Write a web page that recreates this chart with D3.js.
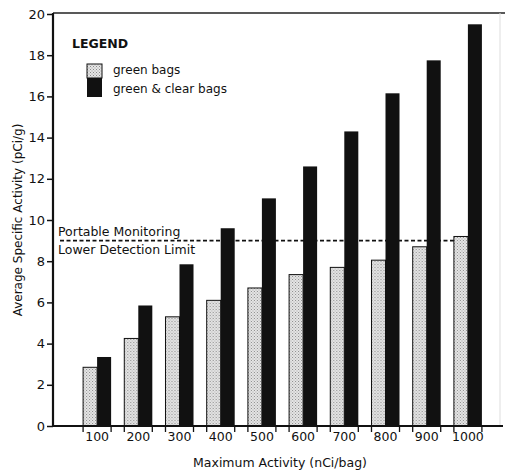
<!DOCTYPE html>
<html>
<head>
<meta charset="utf-8">
<script src="https://cdn.jsdelivr.net/npm/d3@7"></script>
<style>
  body { margin: 0; background: #fff; }
  svg { display: block; font-family: "DejaVu Sans", Verdana, sans-serif; }
</style>
</head>
<body>
<div id="chart"></div>
<script>
// Data.
var categories = ['100', '200', '300', '400', '500', '600', '700', '800', '900', '1000'];
var greenBags = [2.85, 4.25, 5.3, 6.1, 6.7, 7.35, 7.7, 8.05, 8.7, 9.2];
var greenClearBags = [3.35, 5.85, 7.85, 9.6, 11.05, 12.6, 14.3, 16.15, 17.75, 19.5];
var yTicks = [0, 2, 4, 6, 8, 10, 12, 14, 16, 18, 20];
var detectionLimit = 9;

var width = 505, height = 471;
var x0 = 53, x1 = 503, yTop = 13, yBottom = 426;

var svg = d3.select('#chart').append('svg')
    .attr('width', width)
    .attr('height', height);

// dotted fill for the light bars
var pat = svg.append('defs').append('pattern')
    .attr('id', 'stipple')
    .attr('patternUnits', 'userSpaceOnUse')
    .attr('width', 3).attr('height', 3);
pat.append('rect').attr('width', 3).attr('height', 3).attr('fill', '#e6e6e6');
pat.append('rect').attr('x', 0).attr('y', 0).attr('width', 1).attr('height', 1).attr('fill', '#8a8a8a');
pat.append('rect').attr('x', 1.5).attr('y', 1.5).attr('width', 1).attr('height', 1).attr('fill', '#9a9a9a');

var xScale = d3.scaleBand()
    .domain(categories)
    .range([76.5, 488.5])
    .paddingInner(0.32)
    .paddingOuter(0.16);

var xSub = d3.scaleBand()
    .domain(['green', 'clear'])
    .range([0, xScale.bandwidth()]);

var yScale = d3.scaleLinear()
    .domain([0, 20])
    .range([yBottom, yTop + 1]);

// dashed detection limit, behind the bars
svg.append('line')
    .attr('x1', 60).attr('x2', 466)
    .attr('y1', yScale(detectionLimit)).attr('y2', yScale(detectionLimit))
    .attr('stroke', '#111')
    .attr('stroke-width', 1.6)
    .attr('stroke-dasharray', '4,2.5');

var groups = svg.append('g').selectAll('g')
    .data(categories)
    .enter().append('g')
    .attr('transform', function(d) { return 'translate(' + xScale(d) + ',0)'; });

groups.append('rect')
    .attr('x', xSub('green'))
    .attr('width', xSub.bandwidth())
    .attr('y', function(d, i) { return yScale(greenBags[i]); })
    .attr('height', function(d, i) { return yBottom - yScale(greenBags[i]); })
    .attr('fill', 'url(#stipple)')
    .attr('stroke', '#111')
    .attr('stroke-width', 1);

groups.append('rect')
    .attr('x', xSub('clear'))
    .attr('width', xSub.bandwidth())
    .attr('y', function(d, i) { return yScale(greenClearBags[i]); })
    .attr('height', function(d, i) { return yBottom - yScale(greenClearBags[i]); })
    .attr('fill', '#111');

// frame lines
svg.append('line')
    .attr('x1', x0).attr('x2', width)
    .attr('y1', yTop).attr('y2', yTop)
    .attr('stroke', '#222').attr('stroke-width', 1.6);
svg.append('line')
    .attr('x1', 500).attr('x2', 500)
    .attr('y1', yTop).attr('y2', yBottom)
    .attr('stroke', '#ddd').attr('stroke-width', 1);

// y axis
var yAxis = svg.append('g')
    .attr('transform', 'translate(' + x0 + ',0)')
    .call(d3.axisLeft(yScale).tickValues(yTicks).tickSize(6).tickPadding(2).tickFormat(d3.format('d')));
yAxis.select('.domain').remove();
yAxis.selectAll('.tick line').attr('stroke', '#111').attr('stroke-width', 1.5);
yAxis.selectAll('.tick text')
    .attr('fill', '#111')
    .style('font-family', '"DejaVu Sans", sans-serif')
    .style('font-size', '13px');
svg.append('line')
    .attr('x1', x0).attr('x2', x0)
    .attr('y1', yTop).attr('y2', yBottom)
    .attr('stroke', '#111').attr('stroke-width', 2.2);

// x axis: labels at group centres, ticks at group edges
var xAxis = svg.append('g')
    .attr('transform', 'translate(0,' + yBottom + ')')
    .call(d3.axisBottom(xScale).tickSize(0).tickPadding(6));
xAxis.select('.domain').remove();
xAxis.selectAll('.tick text')
    .attr('fill', '#111')
    .style('font-family', '"DejaVu Sans", sans-serif')
    .style('font-size', '12.5px');
var edges = [];
categories.forEach(function(c) {
    edges.push(xScale(c));
    edges.push(xScale(c) + xScale.bandwidth());
});
xAxis.selectAll('.edge')
    .data(edges)
    .enter().append('line')
    .attr('x1', function(d) { return d; })
    .attr('x2', function(d) { return d; })
    .attr('y1', 0).attr('y2', 6)
    .attr('stroke', '#111').attr('stroke-width', 1.3);
svg.append('line')
    .attr('x1', x0).attr('x2', x1)
    .attr('y1', yBottom).attr('y2', yBottom)
    .attr('stroke', '#111').attr('stroke-width', 2);

// axis titles
svg.append('text')
    .attr('x', 280).attr('y', 467)
    .attr('text-anchor', 'middle')
    .attr('fill', '#111')
    .style('font-size', '12.5px')
    .text('Maximum Activity (nCi/bag)');
svg.append('text')
    .attr('transform', 'translate(22,220) rotate(-90)')
    .attr('text-anchor', 'middle')
    .attr('fill', '#111')
    .style('font-size', '12px')
    .text('Average Specific Activity (pCi/g)');

// detection limit label
svg.append('text')
    .attr('x', 58).attr('y', yScale(detectionLimit) - 5)
    .attr('fill', '#111')
    .style('font-size', '12.5px')
    .text('Portable Monitoring');
svg.append('text')
    .attr('x', 58).attr('y', yScale(detectionLimit) + 13)
    .attr('fill', '#111')
    .style('font-size', '12.5px')
    .text('Lower Detection Limit');

// legend
var legend = svg.append('g');
legend.append('text')
    .attr('x', 72).attr('y', 48)
    .attr('fill', '#111')
    .style('font-size', '12.5px')
    .style('font-weight', 'bold')
    .text('LEGEND');
legend.append('rect')
    .attr('x', 87).attr('y', 64).attr('width', 15).attr('height', 14)
    .attr('fill', 'url(#stipple)').attr('stroke', '#111').attr('stroke-width', 1);
legend.append('rect')
    .attr('x', 87).attr('y', 78).attr('width', 15).attr('height', 19)
    .attr('fill', '#111');
legend.append('text')
    .attr('x', 113).attr('y', 74)
    .attr('fill', '#111')
    .style('font-size', '12px')
    .text('green bags');
legend.append('text')
    .attr('x', 113).attr('y', 93)
    .attr('fill', '#111')
    .style('font-size', '12px')
    .text('green & clear bags');
</script>
</body>
</html>
